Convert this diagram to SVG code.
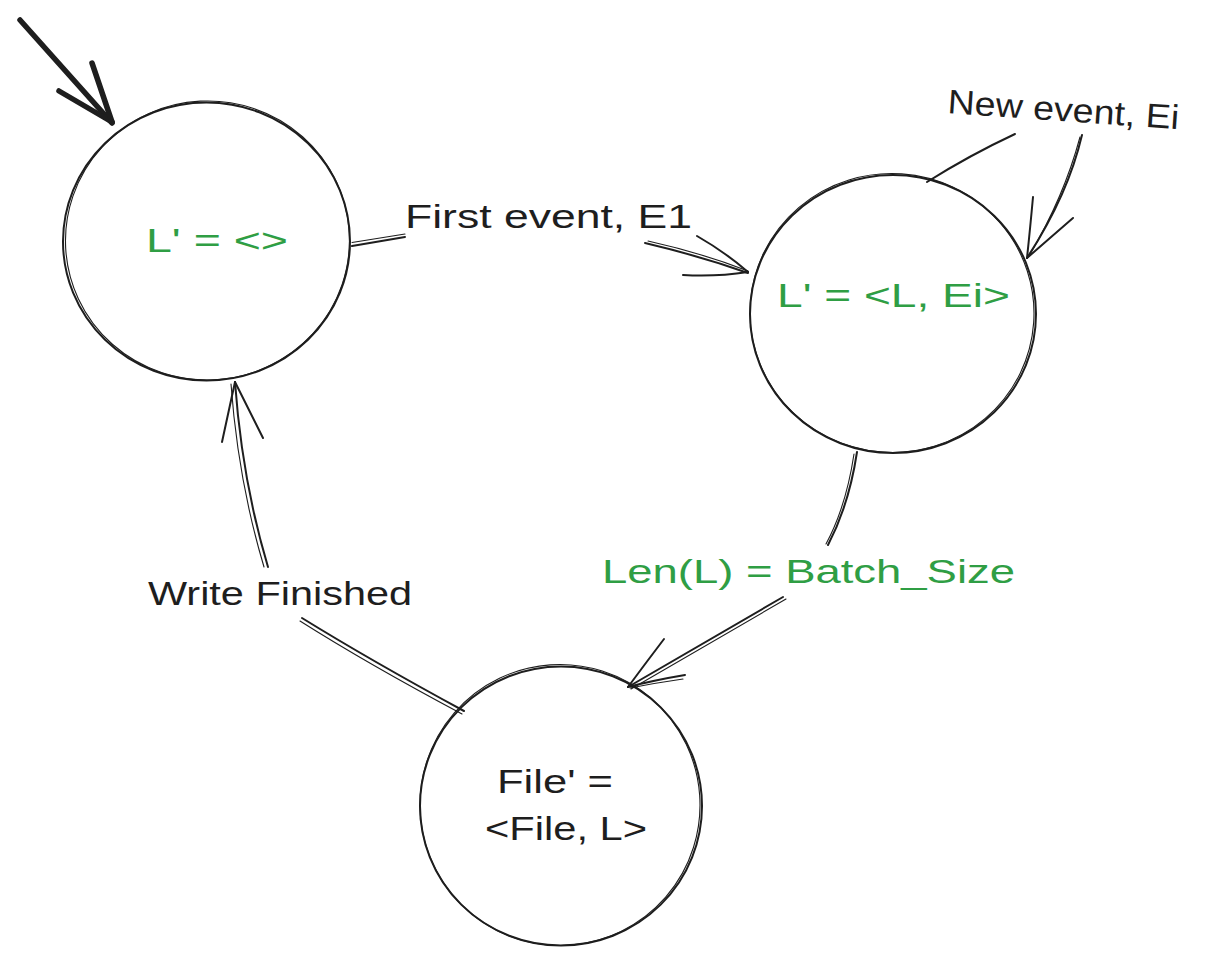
<svg xmlns="http://www.w3.org/2000/svg" width="1229" height="966" viewBox="0 0 1229 966">
  <defs>
    <style>
      .ink { fill: none; stroke: #1e1e1e; stroke-linecap: round; stroke-linejoin: round; }
      .main { stroke-width: 2; }
      .thin { stroke-width: 1.1; }
      .bold { stroke-width: 5.5; }
      .lbl { font-family: "Liberation Sans", "DejaVu Sans", sans-serif; font-size: 34px; fill: #1e1e1e; }
      .grn { fill: #2f9e44; }
    </style>
  </defs>
  <rect width="1229" height="966" fill="#ffffff"/>

  <!-- Start state -->
  <g id="state-empty">
    <ellipse class="ink main" cx="206.5" cy="241.5" rx="143.5" ry="139"/>
    <ellipse class="ink thin" cx="207.5" cy="240.5" rx="142" ry="139.5" transform="rotate(-3 207 241)"/>
    <text class="lbl grn" x="146" y="252" font-size="31" textLength="142" lengthAdjust="spacingAndGlyphs">L' = &lt;&gt;</text>
  </g>

  <!-- Accumulating state -->
  <g id="state-accumulate">
    <ellipse class="ink main" cx="893" cy="314" rx="143" ry="139"/>
    <ellipse class="ink thin" cx="892" cy="313" rx="142" ry="139.5" transform="rotate(4 892 313)"/>
    <text class="lbl grn" x="777" y="307" font-size="31" textLength="233" lengthAdjust="spacingAndGlyphs">L' = &lt;L, Ei&gt;</text>
  </g>

  <!-- Write state -->
  <g id="state-write">
    <ellipse class="ink main" cx="561" cy="806" rx="141" ry="139.5"/>
    <ellipse class="ink thin" cx="560" cy="805" rx="140" ry="140.5" transform="rotate(-4 560 805)"/>
    <text class="lbl" x="497" y="793" font-size="31" textLength="116" lengthAdjust="spacingAndGlyphs">File' =</text>
    <text class="lbl" x="485" y="840" font-size="31" textLength="162" lengthAdjust="spacingAndGlyphs">&lt;File, L&gt;</text>
  </g>

  <!-- Connectors -->
  <g id="connectors">
    <!-- initial arrow -->
    <g id="edge-initial">
      <path class="ink bold" d="M20,20 L112,123"/>
      <path class="ink bold" d="M59,91 L112,122"/>
      <path class="ink bold" d="M92,63 L112,122"/>
    </g>

    <!-- First event -->
    <g id="edge-first">
      <path class="ink main" d="M352,246 L405,237"/>
      <path class="ink thin" d="M352,242.5 L405,234"/>
      <path class="ink main" d="M645,243 Q700,256 748,273"/>
      <path class="ink thin" d="M648,241 Q702,253 748,271"/>
      <path class="ink main" d="M697,236 Q725,252 748,272"/>
      <path class="ink main" d="M683,275 Q716,277 748,272"/>
      <text class="lbl" x="405" y="228" textLength="287" lengthAdjust="spacingAndGlyphs">First event, E1</text>
    </g>

    <!-- New event self-loop -->
    <g id="edge-new">
      <path class="ink main" d="M927,182 Q970,155 1015,134"/>
      <path class="ink main" d="M1082,135 Q1068,195 1027,258"/>
      <path class="ink thin" d="M1080,137 Q1064,197 1029,256"/>
      <path class="ink main" d="M1033,197 Q1030,230 1027,258"/>
      <path class="ink main" d="M1073,218 Q1050,238 1027,258"/>
      <text class="lbl" x="947" y="113" textLength="232" lengthAdjust="spacingAndGlyphs" transform="rotate(4 947 113)">New event, Ei</text>
    </g>

    <!-- Batch size reached -->
    <g id="edge-batch">
      <path class="ink main" d="M857,452 Q849,505 828,545"/>
      <path class="ink thin" d="M854,454 Q846,507 826,544"/>
      <path class="ink main" d="M783,597 L628,687"/>
      <path class="ink thin" d="M786,599 L631,689"/>
      <path class="ink main" d="M664,639 Q645,664 628,687"/>
      <path class="ink main" d="M685,675 Q655,680 628,687"/>
      <path class="ink thin" d="M683,679 Q655,683 630,688"/>
      <text class="lbl grn" x="602" y="583" textLength="413" lengthAdjust="spacingAndGlyphs">Len(L) = Batch_Size</text>
    </g>

    <!-- Write finished -->
    <g id="edge-finished">
      <path class="ink main" d="M464,711 Q370,660 302,618"/>
      <path class="ink thin" d="M462,714 Q368,664 300,621"/>
      <path class="ink main" d="M268,567 Q242,480 235,382"/>
      <path class="ink thin" d="M264,567 Q238,480 231,384"/>
      <path class="ink main" d="M222,442 L235,382"/>
      <path class="ink main" d="M263,438 L235,382"/>
      <text class="lbl" x="148" y="605" textLength="264" lengthAdjust="spacingAndGlyphs">Write Finished</text>
    </g>
  </g>
</svg>
